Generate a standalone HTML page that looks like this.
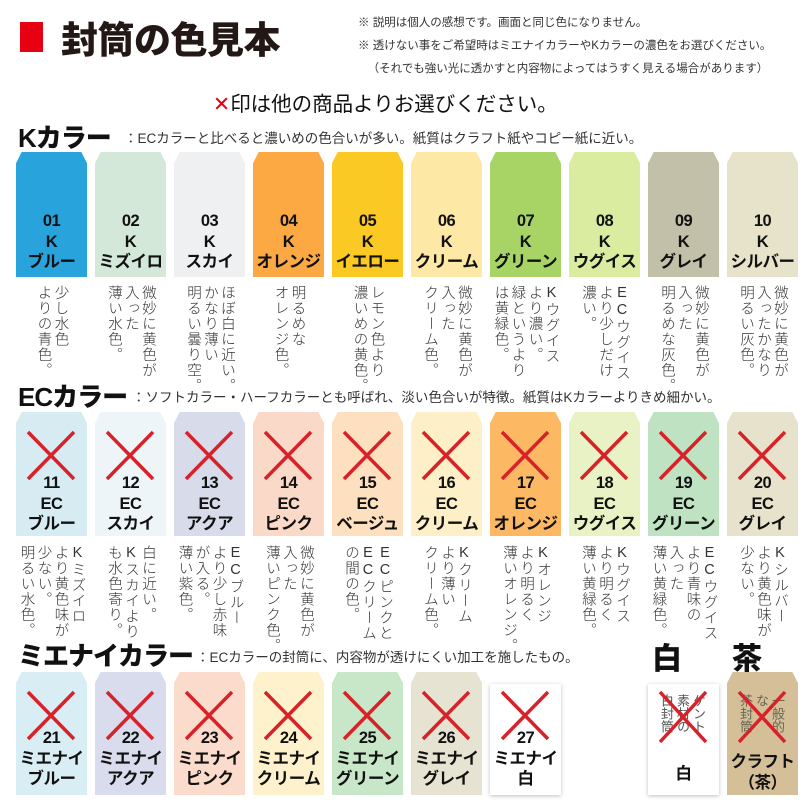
<!DOCTYPE html>
<html><head><meta charset="utf-8"><style>
*{margin:0;padding:0;box-sizing:border-box}
body{width:810px;height:810px;background:#fff;position:relative;overflow:hidden;font-family:"Liberation Sans","Noto Sans CJK JP",sans-serif;color:#111}
.a{position:absolute}
.env{position:absolute;width:71px;clip-path:polygon(8% 0,92% 0,100% 9%,100% 100%,0 100%,0 9%)}
.lab{position:absolute;left:-4px;right:-4px;text-align:center;font-weight:bold;font-size:16.5px;line-height:20.5px;color:#111;letter-spacing:-0.5px}
.d{position:absolute;width:71px;display:flex;justify-content:center}
.d div{writing-mode:vertical-rl;text-orientation:upright;font-size:14.5px;line-height:17px;color:#333;letter-spacing:1px;font-weight:300}
.h{position:absolute;font-weight:900;font-size:26px;left:18px;letter-spacing:-1px}
.hd{position:absolute;font-size:13.5px;color:#333}
.sh{box-shadow:0 2px 3px rgba(0,0,0,.2)}
svg.a{z-index:5}
</style></head><body>
<div class="a" style="left:20px;top:22px;width:23px;height:30px;background:#e60012"></div>
<div class="a" style="left:61px;top:10px;font-size:37px;font-weight:900;letter-spacing:-0.5px;color:#231815">封筒の色見本</div>
<div class="a" style="left:358px;top:12px;font-size:11.5px;line-height:23px;color:#333">※ 説明は個人の感想です。画面と同じ色になりません。<br>※ 透けない事をご希望時はミエナイカラーやKカラーの濃色をお選びください。<br>&nbsp;&nbsp;&nbsp;（それでも強い光に透かすと内容物によってはうすく見える場合があります）</div>
<div class="a" style="left:213px;top:87px;font-size:20.5px;color:#111"><span style="color:#e60012">✕</span>印は他の商品よりお選びください。</div>

<div class="h" style="top:118px">Kカラー</div>
<div class="hd" style="left:124px;top:127px">：ECカラーと比べると濃いめの色合いが多い。紙質はクラフト紙やコピー紙に近い。</div>

<div class="env" style="left:16px;top:152px;height:125px;background:#29a3dc"><div class="lab" style="top:59px">01<br>K<br>ブルー</div></div>
<div class="env" style="left:95px;top:152px;height:125px;background:#d3e8d8"><div class="lab" style="top:59px">02<br>K<br>ミズイロ</div></div>
<div class="env" style="left:174px;top:152px;height:125px;background:#eef0f2"><div class="lab" style="top:59px">03<br>K<br>スカイ</div></div>
<div class="env" style="left:253px;top:152px;height:125px;background:#fca843"><div class="lab" style="top:59px">04<br>K<br>オレンジ</div></div>
<div class="env" style="left:332px;top:152px;height:125px;background:#fbc923"><div class="lab" style="top:59px">05<br>K<br>イエロー</div></div>
<div class="env" style="left:411px;top:152px;height:125px;background:#fde8a6"><div class="lab" style="top:59px">06<br>K<br>クリーム</div></div>
<div class="env" style="left:490px;top:152px;height:125px;background:#a8d466"><div class="lab" style="top:59px">07<br>K<br>グリーン</div></div>
<div class="env" style="left:569px;top:152px;height:125px;background:#d9eca0"><div class="lab" style="top:59px">08<br>K<br>ウグイス</div></div>
<div class="env" style="left:648px;top:152px;height:125px;background:#c2c0a8"><div class="lab" style="top:59px">09<br>K<br>グレイ</div></div>
<div class="env" style="left:727px;top:152px;height:125px;background:#e6e3ca"><div class="lab" style="top:59px">10<br>K<br>シルバー</div></div>

<div class="d" style="left:16px;top:285px"><div>少し水色<br>よりの青色。</div></div>
<div class="d" style="left:95px;top:285px"><div>微妙に黄色が<br>入った<br>薄い水色。</div></div>
<div class="d" style="left:174px;top:285px"><div>ほぼ白に近い。<br>かなり薄い<br>明るい曇り空。</div></div>
<div class="d" style="left:253px;top:285px"><div>明るめな<br>オレンジ色。</div></div>
<div class="d" style="left:332px;top:285px"><div>レモン色より<br>濃いめの黄色。</div></div>
<div class="d" style="left:411px;top:285px"><div>微妙に黄色が<br>入った<br>クリーム色。</div></div>
<div class="d" style="left:490px;top:285px"><div>Kウグイス<br>より濃い。<br>緑というより<br>は黄緑色。</div></div>
<div class="d" style="left:569px;top:285px"><div>ECウグイス<br>より少しだけ<br>濃い。</div></div>
<div class="d" style="left:648px;top:285px"><div>微妙に黄色が<br>入った<br>明るめな灰色。</div></div>
<div class="d" style="left:727px;top:285px"><div>微妙に黄色が<br>入ったかなり<br>明るい灰色。</div></div>

<div class="h" style="top:377px">ECカラー</div>
<div class="hd" style="left:132px;top:386px">：ソフトカラー・ハーフカラーとも呼ばれ、淡い色合いが特徴。紙質はKカラーよりきめ細かい。</div>

<div class="env" style="left:16px;top:412px;height:124px;background:#d6ecf2"><div class="lab" style="top:61px">11<br>EC<br>ブルー</div></div>
<div class="env" style="left:95px;top:412px;height:124px;background:#edf5f9"><div class="lab" style="top:61px">12<br>EC<br>スカイ</div></div>
<div class="env" style="left:174px;top:412px;height:124px;background:#d8dcea"><div class="lab" style="top:61px">13<br>EC<br>アクア</div></div>
<div class="env" style="left:253px;top:412px;height:124px;background:#fbd9c8"><div class="lab" style="top:61px">14<br>EC<br>ピンク</div></div>
<div class="env" style="left:332px;top:412px;height:124px;background:#fde0c0"><div class="lab" style="top:61px">15<br>EC<br>ベージュ</div></div>
<div class="env" style="left:411px;top:412px;height:124px;background:#fdf0c8"><div class="lab" style="top:61px">16<br>EC<br>クリーム</div></div>
<div class="env" style="left:490px;top:412px;height:124px;background:#fdb864"><div class="lab" style="top:61px">17<br>EC<br>オレンジ</div></div>
<div class="env" style="left:569px;top:412px;height:124px;background:#e8f2c4"><div class="lab" style="top:61px">18<br>EC<br>ウグイス</div></div>
<div class="env" style="left:648px;top:412px;height:124px;background:#bfe2c2"><div class="lab" style="top:61px">19<br>EC<br>グリーン</div></div>
<div class="env" style="left:727px;top:412px;height:124px;background:#e6e2cc"><div class="lab" style="top:61px">20<br>EC<br>グレイ</div></div>

<div class="d" style="left:16px;top:545px"><div>Kミズイロ<br>より黄色味が<br>少ない。<br>明るい水色。</div></div>
<div class="d" style="left:95px;top:545px"><div>白に近い。<br>Kスカイより<br>も水色寄り。</div></div>
<div class="d" style="left:174px;top:545px"><div>ECブルー<br>より少し赤味<br>が入る。<br>薄い紫色。</div></div>
<div class="d" style="left:253px;top:545px"><div>微妙に黄色が<br>入った<br>薄いピンク色。</div></div>
<div class="d" style="left:332px;top:545px"><div>ECピンクと<br>ECクリーム<br>の間の色。</div></div>
<div class="d" style="left:411px;top:545px"><div>Kクリーム<br>より薄い<br>クリーム色。</div></div>
<div class="d" style="left:490px;top:545px"><div>Kオレンジ<br>より明るく<br>薄いオレンジ。</div></div>
<div class="d" style="left:569px;top:545px"><div>Kウグイス<br>より明るく<br>薄い黄緑色。</div></div>
<div class="d" style="left:648px;top:545px"><div>ECウグイス<br>より青味の<br>入った<br>薄い黄緑色。</div></div>
<div class="d" style="left:727px;top:545px"><div>Kシルバー<br>より黄色味が<br>少ない。</div></div>

<div class="h" style="top:636px">ミエナイカラー</div>
<div class="hd" style="left:196px;top:646px">：ECカラーの封筒に、内容物が透けにくい加工を施したもの。</div>
<div class="a" style="left:652px;top:634px;font-size:30px;font-weight:900">白</div>
<div class="a" style="left:732px;top:634px;font-size:30px;font-weight:900">茶</div>

<div class="env sh" style="left:16px;top:672px;height:123px;background:#d8eef4"><div class="lab" style="top:56px">21<br>ミエナイ<br>ブルー</div></div>
<div class="env sh" style="left:95px;top:672px;height:123px;background:#d8dcec"><div class="lab" style="top:56px">22<br>ミエナイ<br>アクア</div></div>
<div class="env sh" style="left:174px;top:672px;height:123px;background:#fbdccc"><div class="lab" style="top:56px">23<br>ミエナイ<br>ピンク</div></div>
<div class="env sh" style="left:253px;top:672px;height:123px;background:#fdf2cc"><div class="lab" style="top:56px">24<br>ミエナイ<br>クリーム</div></div>
<div class="env sh" style="left:332px;top:672px;height:123px;background:#c8e6c8"><div class="lab" style="top:56px">25<br>ミエナイ<br>グリーン</div></div>
<div class="env sh" style="left:411px;top:672px;height:123px;background:#e6e3d2"><div class="lab" style="top:56px">26<br>ミエナイ<br>グレイ</div></div>
<div class="a" style="left:490px;top:684px;width:71px;height:111px;background:#fff;box-shadow:0 1px 4px rgba(0,0,0,.25)"><div class="lab" style="top:44px">27<br>ミエナイ<br>白</div></div>

<div class="a" style="left:648px;top:684px;width:71px;height:111px;background:#fff;box-shadow:0 1px 4px rgba(0,0,0,.25)">
<div class="a" style="left:10px;top:10px;writing-mode:vertical-rl;font-size:13px;line-height:16px;color:#555">ケント<br>素材の<br>白封筒</div>
<div class="lab" style="top:80px">白</div></div>
<div class="env" style="left:727px;top:672px;height:123px;background:#d5bf98">
<div class="a" style="left:10px;top:22px;writing-mode:vertical-rl;font-size:13px;line-height:16px;color:#665">一般的<br>な<br>茶封筒</div>
<div class="lab" style="top:80px">クラフト<br>（茶）</div></div>

<svg class="a" style="left:0;top:0" width="810" height="810">
<g stroke="#d7222a" stroke-width="3.5" fill="none">
<path d="M28 432l46 47M74 432l-46 47M107 432l46 47M153 432l-46 47M186 432l46 47M232 432l-46 47M265 432l46 47M311 432l-46 47M344 432l46 47M390 432l-46 47M423 432l46 47M469 432l-46 47M502 432l46 47M548 432l-46 47M581 432l46 47M627 432l-46 47M660 432l46 47M706 432l-46 47M739 432l46 47M785 432l-46 47"/>
<path d="M28 692l46 47M74 692l-46 47M107 692l46 47M153 692l-46 47M186 692l46 47M232 692l-46 47M265 692l46 47M311 692l-46 47M344 692l46 47M390 692l-46 47M423 692l46 47M469 692l-46 47M502 692l46 47M548 692l-46 47"/>
<path d="M660 692l46 50M706 692l-46 50M739 692l46 50M785 692l-46 50"/>
</g></svg>
</body></html>
